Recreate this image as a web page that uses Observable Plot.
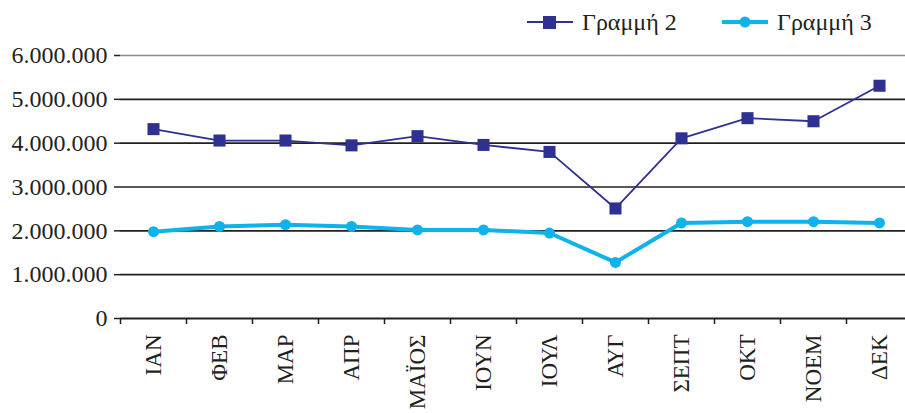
<!DOCTYPE html>
<html>
<head>
<meta charset="utf-8">
<script src="https://cdn.jsdelivr.net/npm/d3@7"></script>
<script src="https://cdn.jsdelivr.net/npm/@observablehq/plot@0.6"></script>
<style>
  html, body { margin: 0; padding: 0; background: #fff; overflow: hidden; }
  body { width: 905px; height: 413px; font-family: "Liberation Serif", serif; }
  #legend { height: 40px; position: relative; }
  .item { position: absolute; top: 7px; display: flex; align-items: center; font-size: 24px; color: #231F20; line-height: 30px; }
  .item svg { margin-right: 9px; }
</style>
</head>
<body>
<div id="legend"></div>
<div id="chart"></div>
<script>
const months = ["ΙΑΝ", "ΦΕΒ", "ΜΑΡ", "ΑΠΡ", "ΜΑΪΟΣ", "ΙΟΥΝ", "ΙΟΥΛ", "ΑΥΓ", "ΣΕΠΤ", "ΟΚΤ", "ΝΟΕΜ", "ΔΕΚ"];
const line2 = [4320000, 4060000, 4060000, 3950000, 4160000, 3960000, 3800000, 2510000, 4110000, 4570000, 4500000, 5310000];
const line3 = [1980000, 2100000, 2140000, 2100000, 2020000, 2020000, 1950000, 1280000, 2180000, 2210000, 2210000, 2180000];
const seriesNames = ["Γραμμή 2", "Γραμμή 3"];
const yTicks = [0, 1000000, 2000000, 3000000, 4000000, 5000000, 6000000];

const c2 = "#2E3192", c3 = "#0FB2EA";

const data2 = months.map((m, i) => ({month: m, value: line2[i]}));
const data3 = months.map((m, i) => ({month: m, value: line3[i]}));
const fmt = d => d3.format(",")(d).replace(/,/g, ".");

// legend
const legend = document.getElementById("legend");
legend.innerHTML = `
<div class="item" style="left:527px">
  <svg width="46" height="14"><line x1="0" x2="46" y1="7" y2="7" stroke="${c2}" stroke-width="2"/><rect x="16" y="1" width="13" height="13" fill="${c2}"/></svg>${seriesNames[0]}</div>
<div class="item" style="left:722px">
  <svg width="46" height="14"><line x1="0" x2="46" y1="7" y2="7" stroke="${c3}" stroke-width="4"/><circle cx="23" cy="7" r="5.5" fill="${c3}"/></svg>${seriesNames[1]}</div>`;

const chart = Plot.plot({
  width: 905,
  height: 373,
  marginTop: 15,
  marginBottom: 95,
  marginLeft: 120,
  marginRight: 0,
  style: {fontFamily: "Liberation Serif, serif", fontSize: "24px", color: "#231F20", background: "#fff", overflow: "hidden"},
  x: {type: "band", domain: months, range: [120, 912], padding: 0, label: null},
  y: {domain: [0, 6000000], range: [278, 15], label: null},
  marks: [
    Plot.ruleY(yTicks.filter(d => d > 0 && d < 6000000), {stroke: "#231F20", strokeWidth: 1.6}),
    Plot.ruleY([6000000], {stroke: "#8a8a8a", strokeWidth: 1.6}),
    Plot.axisY({ticks: yTicks, tickFormat: fmt, tickSize: 6, tickPadding: 7, fontSize: 24, stroke: "#231F20", strokeWidth: 1.5, label: null}),
    Plot.ruleX([0], {frameAnchor: "left", stroke: "#231F20", strokeWidth: 2}),
    Plot.ruleY([0], {stroke: "#231F20", strokeWidth: 2}),
    Plot.axisX({tickFormat: () => "", tickSize: 6, dx: -33, stroke: "#231F20", strokeWidth: 1.5, label: null}),
    Plot.axisX({tickSize: 0, tickPadding: 16, tickRotate: -90, fontSize: 23, label: null}),
    Plot.line(data2, {x: "month", y: "value", stroke: c2, strokeWidth: 1.8}),
    Plot.dot(data2, {x: "month", y: "value", symbol: "square", r: 6.8, fill: c2}),
    Plot.line(data3, {x: "month", y: "value", stroke: c3, strokeWidth: 4}),
    Plot.dot(data3, {x: "month", y: "value", r: 5.5, fill: c3})
  ]
});
document.getElementById("chart").appendChild(chart);
</script>
</body>
</html>
